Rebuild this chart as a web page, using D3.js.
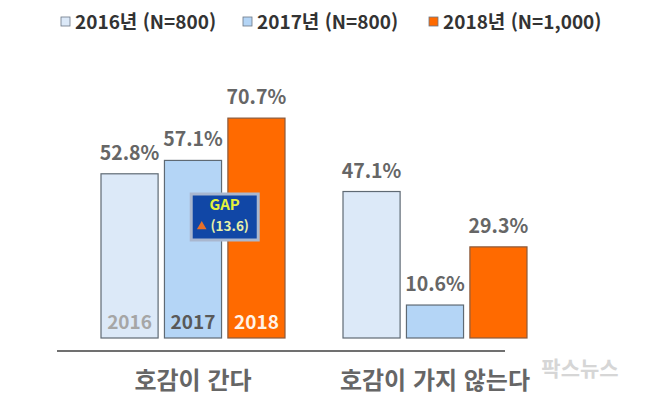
<!doctype html>
<html lang="ko">
<head>
<meta charset="UTF-8">
<title>호감도</title>
<style>
body { margin: 0; background: #fff; }
svg text { font-family: "Noto Sans CJK KR", "Noto Sans", sans-serif; }
</style>
<script src="https://cdn.jsdelivr.net/npm/d3@7"></script>
</head>
<body>
<script>
var categories = ['호감이 간다', '호감이 가지 않는다'];
var years = ['2016', '2017', '2018'];
var legendLabels = ['2016년 (N=800)', '2017년 (N=800)', '2018년 (N=1,000)'];
var values2016 = [52.8, 47.1];
var values2017 = [57.1, 10.6];
var values2018 = [70.7, 29.3];
var gapLabel = ['GAP', '(13.6)'];

var w = 646, h = 397;
var colors = { '2016': '#dce9f8', '2017': '#b4d5f6', '2018': '#ff6a00' };
var innerText = { '2016': '#a6a6a6', '2017': '#595959', '2018': '#fff3e8' };

var series = { '2016': values2016, '2017': values2017, '2018': values2018 };
var rows = [];
categories.forEach(function (c, ci) {
  years.forEach(function (y) {
    rows.push({ cat: c, ci: ci, year: y, value: series[y][ci] });
  });
});

var svg = d3.select('body').append('svg')
  .attr('width', w)
  .attr('height', h);

var x0 = d3.scaleBand().domain(categories).range([72, 556]);
var x1 = d3.scaleBand().domain(years).range([29, 213]).paddingInner(0.1);
var y = d3.scaleLinear().domain([0, 100]).range([338, 27]);

// bars
svg.selectAll('rect.bar')
  .data(rows)
  .enter()
  .append('rect')
  .attr('class', 'bar')
  .attr('x', function (d) { return x0(d.cat) + x1(d.year); })
  .attr('y', function (d) { return y(d.value); })
  .attr('width', x1.bandwidth())
  .attr('height', function (d) { return y(0) - y(d.value); })
  .attr('fill', function (d) { return colors[d.year]; })
  .attr('stroke', function (d) { return d.year === '2018' ? '#8a5a3c' : '#5f6a74'; })
  .attr('stroke-width', 1.2);

// value labels
svg.selectAll('text.val')
  .data(rows)
  .enter()
  .append('text')
  .attr('class', 'val')
  .attr('x', function (d) { return x0(d.cat) + x1(d.year) + x1.bandwidth() / 2; })
  .attr('y', function (d) { return y(d.value) - 14; })
  .attr('text-anchor', 'middle')
  .attr('font-size', '19.5px')
  .attr('font-weight', 'bold')
  .attr('fill', '#666')
  .text(function (d) { return d.value.toFixed(1) + '%'; });

// year labels inside first group
svg.selectAll('text.yr')
  .data(rows.filter(function (d) { return d.ci === 0; }))
  .enter()
  .append('text')
  .attr('class', 'yr')
  .attr('x', function (d) { return x0(d.cat) + x1(d.year) + x1.bandwidth() / 2; })
  .attr('y', y(0) - 9)
  .attr('text-anchor', 'middle')
  .attr('font-size', '19px')
  .attr('font-weight', 'bold')
  .attr('fill', function (d) { return innerText[d.year]; })
  .text(function (d) { return d.year; });

// axis line
svg.append('line')
  .attr('x1', 57).attr('x2', 505)
  .attr('y1', 351).attr('y2', 351)
  .attr('stroke', '#404040')
  .attr('stroke-width', 1.5);

// category labels
svg.selectAll('text.cat')
  .data(categories)
  .enter()
  .append('text')
  .attr('class', 'cat')
  .attr('x', function (d) { return x0(d) + x0.bandwidth() / 2; })
  .attr('y', 389)
  .attr('text-anchor', 'middle')
  .attr('font-size', '24px')
  .attr('font-weight', 'bold')
  .attr('fill', '#666')
  .text(function (d) { return d; });

// GAP box between 2017 and 2018 in first group
var gx = x0(categories[0]) + x1('2018') - (x1.step() - x1.bandwidth()) / 2;
var gy = 217;
var gap = svg.append('g').attr('transform', 'translate(' + gx + ',' + gy + ')');
gap.append('rect')
  .attr('x', -35).attr('y', -24.5)
  .attr('width', 70).attr('height', 49)
  .attr('fill', '#a9b7cf');
gap.append('rect')
  .attr('x', -32).attr('y', -21.5)
  .attr('width', 64).attr('height', 43)
  .attr('fill', '#1147a6');
gap.append('text')
  .attr('x', 0).attr('y', -7)
  .attr('text-anchor', 'middle')
  .attr('font-size', '15px')
  .attr('font-weight', 'bold')
  .attr('fill', '#e4f23c')
  .text(gapLabel[0]);
gap.append('path')
  .attr('d', d3.symbol().type(d3.symbolTriangle).size(40))
  .attr('transform', 'translate(-23,9.5)')
  .attr('fill', '#e8702a');
gap.append('text')
  .attr('x', 5).attr('y', 14)
  .attr('text-anchor', 'middle')
  .attr('font-size', '13.5px')
  .attr('font-weight', 'bold')
  .attr('fill', '#e8f0a8')
  .text(gapLabel[1]);

// legend
var legendX = [61, 243, 429];
var legend = svg.selectAll('g.leg')
  .data(years)
  .enter()
  .append('g')
  .attr('class', 'leg')
  .attr('transform', function (d, i) { return 'translate(' + legendX[i] + ',17)'; });
legend.append('rect')
  .attr('width', 9).attr('height', 9)
  .attr('fill', function (d) { return colors[d]; })
  .attr('stroke', '#6b7785')
  .attr('stroke-width', 0.8);
legend.append('text')
  .attr('x', 14).attr('y', 11.5)
  .attr('font-size', '19px')
  .attr('font-weight', 'bold')
  .attr('fill', '#333')
  .text(function (d, i) { return legendLabels[i]; });

// watermark
svg.append('text')
  .attr('x', 580).attr('y', 376)
  .attr('text-anchor', 'middle')
  .attr('font-size', '21px')
  .attr('font-weight', 'bold')
  .attr('fill', '#d6d6d6')
  .text('팍스뉴스');
</script>
</body>
</html>
